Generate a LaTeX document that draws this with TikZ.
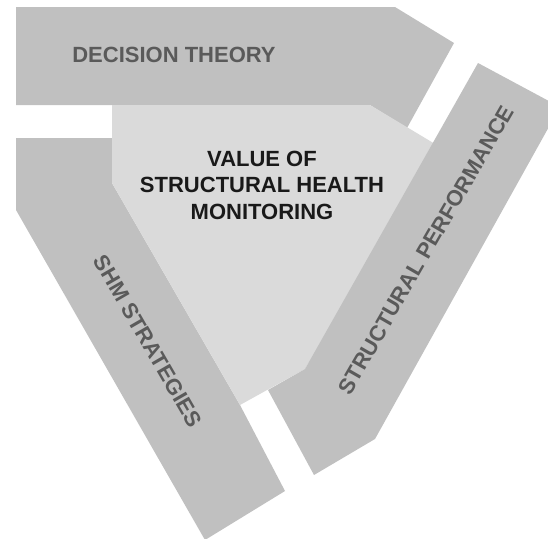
\documentclass[tikz,border=0pt]{standalone}
\usepackage{fontspec}
\setmainfont{Liberation Sans}
\definecolor{bandgray}{RGB}{192,192,192}
\definecolor{coregray}{RGB}{218,218,218}
\definecolor{labelgray}{RGB}{90,90,90}
\begin{document}
\begin{tikzpicture}[x=1pt, y=-1pt,
    band/.style = {fill=bandgray},
    core/.style = {fill=coregray},
    bandtext/.style = {text=labelgray, font=\fontsize{22}{26}\selectfont\bfseries},
    coretext/.style = {align=center, text=black!90, font=\fontsize{22}{26.5}\selectfont\bfseries}]
    \clip (0,0) rectangle (548,538);
    % the three bands and the core
    \fill[band] (16,7) -- (395,7) -- (454,43) -- (407,128) -- (370,105) -- (16,105) -- cycle;
    \fill[band] (16,138) -- (112,138) -- (112,183) -- (240,405) -- (285,491) -- (205,540) -- (16,210) -- cycle;
    \fill[core] (112,105) -- (370,105) -- (440,147) -- (305,369) -- (240,405) -- (112,183) -- cycle;
    \fill[band] (478,63) -- (560,107) -- (375,439) -- (314,475) -- (268,390) -- (305,369) -- cycle;
    % labels
    \node[bandtext] (dt) at (174,55) {DECISION THEORY};
    \node[bandtext, rotate=-60] (shm) at (148,341) {SHM STRATEGIES};
    \node[bandtext, rotate=60] (sp) at (426,250) {STRUCTURAL PERFORMANCE};
    \node[coretext] (value) at (262,185) {VALUE OF\\STRUCTURAL HEALTH\\MONITORING};
\end{tikzpicture}
\end{document}
